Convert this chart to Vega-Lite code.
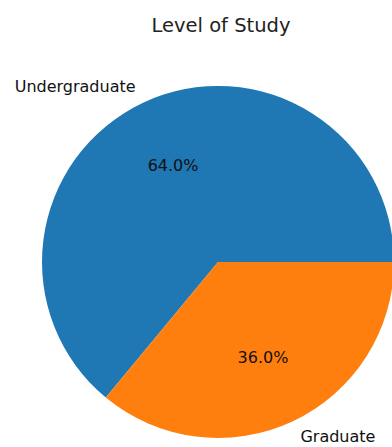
{
  "$schema": "https://vega.github.io/schema/vega-lite/v6.json",
  "width": 436,
  "height": 424,
  "autosize": {"type": "none"},
  "padding": {"top": 50, "left": 0, "right": 0, "bottom": 0},
  "background": "white",
  "view": {"stroke": null},
  "title": {"text": "Level of Study", "fontSize": 19.5, "font": "DejaVu Sans", "fontWeight": "normal", "color": "#222222", "offset": 14, "dx": 3, "frame": "group"},
  "data": {"values": [
    {"level": "Undergraduate", "share": 0.64},
    {"level": "Graduate", "share": 0.36}
  ]},
  "encoding": {
    "theta": {"field": "share", "type": "quantitative", "stack": true, "scale": {"range": [1.5708, 7.854]}},
    "order": {"field": "level", "sort": "ascending"}
  },
  "layer": [
    {
      "mark": {"type": "arc", "radius": 176},
      "encoding": {
        "color": {"field": "level", "type": "nominal", "scale": {"domain": ["Undergraduate", "Graduate"], "range": ["#1f77b4", "#ff7f0e"]}, "legend": null}
      }
    },
    {
      "mark": {"type": "text", "radius": 105.6, "fontSize": 16, "font": "DejaVu Sans", "color": "#111111", "align": "center", "baseline": "middle"},
      "encoding": {
        "text": {"field": "share", "type": "quantitative", "format": ".1%"},
        "detail": {"field": "level", "type": "nominal"}
      }
    },
    {
      "mark": {"type": "text", "radius": 193.6, "fontSize": 16, "font": "DejaVu Sans", "color": "#111111", "baseline": "middle", "align": {"expr": "datum.level === 'Undergraduate' ? 'right' : 'left'"}},
      "encoding": {
        "text": {"field": "level", "type": "nominal"},
        "detail": {"field": "level", "type": "nominal"}
      }
    }
  ]
}
